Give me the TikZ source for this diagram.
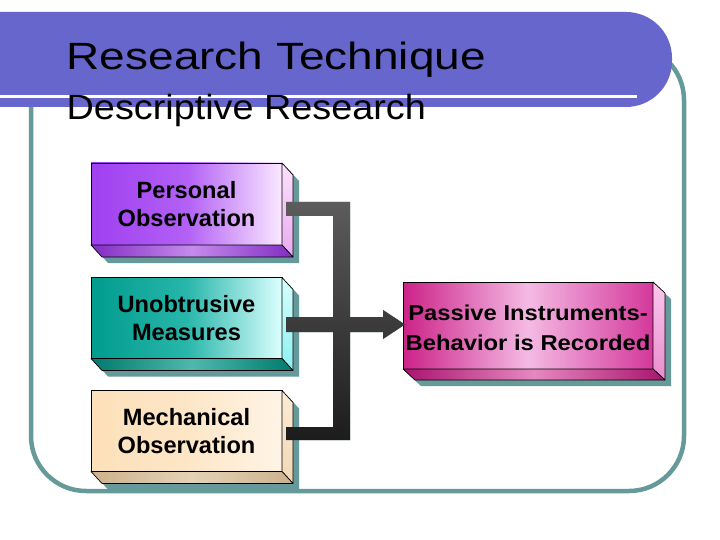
\documentclass[tikz,border=0pt]{standalone}
\usepackage{fontspec}
\usepackage{graphicx}
\setmainfont{Liberation Sans}
\usetikzlibrary{calc}
\definecolor{bandblue}{HTML}{6666CC}
\definecolor{framec}{HTML}{669999}
% personal
\definecolor{poL}{RGB}{160,64,240}
\definecolor{poM}{RGB}{178,96,245}
\definecolor{poR}{RGB}{250,232,255}
\definecolor{poST}{RGB}{252,226,252}
\definecolor{poSB}{RGB}{232,170,240}
\definecolor{poBD}{RGB}{130,44,196}
\definecolor{poBL}{RGB}{196,140,236}
% unobtrusive
\definecolor{uoL}{RGB}{0,156,142}
\definecolor{uoM}{RGB}{40,182,170}
\definecolor{uoR}{RGB}{220,255,255}
\definecolor{uoST}{RGB}{214,255,255}
\definecolor{uoSB}{RGB}{140,240,240}
\definecolor{uoBD}{RGB}{0,122,110}
\definecolor{uoBL}{RGB}{80,184,174}
% mechanical
\definecolor{moL}{RGB}{252,224,186}
\definecolor{moM}{RGB}{253,230,198}
\definecolor{moR}{RGB}{255,244,230}
\definecolor{moST}{RGB}{252,236,214}
\definecolor{moSB}{RGB}{240,214,180}
\definecolor{moBD}{RGB}{204,178,140}
\definecolor{moBL}{RGB}{228,210,182}
% passive
\definecolor{paL}{RGB}{204,34,136}
\definecolor{paM}{RGB}{244,186,228}
\definecolor{paR}{RGB}{212,56,154}
\definecolor{paST}{RGB}{250,200,236}
\definecolor{paSB}{RGB}{232,140,206}
\definecolor{paBD}{RGB}{168,20,110}
\definecolor{paBL}{RGB}{230,136,192}
\definecolor{barT}{RGB}{92,92,92}
\definecolor{barB}{RGB}{28,28,28}
\pgfdeclarelayer{bg}
\pgfdeclarelayer{shd}
\pgfsetlayers{bg,shd,main}
\tikzset{
  frontbox/.style={draw=black, line width=0.7pt, outer sep=0pt, inner sep=0pt,
    minimum width=191pt, minimum height=81pt, align=center,
    font=\fontsize{23.6}{28}\bfseries\selectfont},
  face/.style={draw=black, line width=0.7pt, line join=round},
  boxtext/.style={align=center, inner sep=0pt, font=\fontsize{21.5}{30}\bfseries\selectfont},
  barshade/.style={top color=barT, bottom color=barB},
}
\newcommand\slabparts[5]{%
  \begin{pgfonlayer}{shd}
    \fill[framec] ($(#1.north west)+(6,6)$) -- ($(#1.north east)+(6,6)$)
      -- ($(#1.north east)+(#2+6,#3+6)$) -- ($(#1.south east)+(#2+6,#3+6)$)
      -- ($(#1.south west)+(#2+6,#3+6)$) -- ($(#1.south west)+(6,6)$) -- cycle;
  \end{pgfonlayer}
  \path[face,#4] (#1.north east) -- ++(#2,#3) -- ($(#1.south east)+(#2,#3)$) -- (#1.south east) -- cycle;
  \path[face,#5] (#1.south west) -- (#1.south east) -- ++(#2,#3) -- ($(#1.south west)+(#2,#3)$) -- cycle;
}
\begin{document}
\begin{tikzpicture}[x=1pt,y=-1pt]
\useasboundingbox (0,0) rectangle (720,540);
\begin{pgfonlayer}{bg}
  \fill[white] (0,0) rectangle (720,540);
  \draw[framec, line width=4.5pt, rounded corners=55pt] (31,45) rectangle (684,491);
  \begin{scope}
    \clip (0,0) rectangle (720,540);
    \fill[bandblue, rounded corners=46pt] (-80,12) rectangle (672,107);
  \end{scope}
  \draw[white, line width=3pt] (0,97) -- (637,97);
\end{pgfonlayer}

\node[anchor=base west, inner sep=0pt] (title) at (66.5,69.5)
  {\fontsize{38}{40}\selectfont\scalebox{1.21}[1]{Research Technique}};
\node[anchor=base west, inner sep=0pt] (subtitle) at (66.5,120)
  {\fontsize{35}{38}\selectfont\scalebox{1.08}[1]{Descriptive Research}};

% left boxes
\node[frontbox, left color=poL, right color=poR, middle color=poM, minimum height=82pt]
  (po) at (186.5,204) {Personal\\Observation};
\slabparts{po}{11}{12}{top color=poST, bottom color=poSB}
  {left color=poBD, right color=poBD, middle color=poBL}

\node[frontbox, left color=uoL, right color=uoR, middle color=uoM]
  (uo) at (186.5,318) {Unobtrusive\\Measures};
\slabparts{uo}{11}{12}{top color=uoST, bottom color=uoSB}
  {left color=uoBD, right color=uoBD, middle color=uoBL}

\node[frontbox, left color=moL, right color=moR, middle color=moM]
  (mo) at (186.5,431) {Mechanical\\Observation};
\slabparts{mo}{11}{12}{top color=moST, bottom color=moSB}
  {left color=moBD, right color=moBD, middle color=moBL}

% right box
\node[frontbox, minimum width=250pt, minimum height=87pt,
      left color=paL, right color=paR, middle color=paM]
  (pa) at (528,325.5) {};
\slabparts{pa}{12}{11}{top color=paST, bottom color=paSB}
  {left color=paBD, right color=paBD, middle color=paBL}
\node[boxtext] (patext) at ($(pa.center)+(0,2)$)
  {\scalebox{1.107}[1]{Passive Instruments-}\\\scalebox{1.107}[1]{Behavior is Recorded}};

% connector
\coordinate (a1) at (286,202);
\coordinate (a2) at (350,202);
\coordinate (a3) at (350,317);
\coordinate (a4) at (383,317);
\coordinate (a5) at (383,310);
\coordinate (tip) at (405,324.5);
\coordinate (a7) at (383,339);
\coordinate (a8) at (383,332);
\coordinate (a9) at (350,332);
\coordinate (a10) at (350,440);
\coordinate (a11) at (286,440);
\coordinate (a12) at (286,427);
\coordinate (a13) at (333,427);
\coordinate (a14) at (333,332);
\coordinate (a15) at (286,332);
\coordinate (a16) at (286,317);
\coordinate (a17) at (333,317);
\coordinate (a18) at (333,216);
\coordinate (a19) at (286,216);
\begin{pgfonlayer}{shd}
  \fill[framec, shift={(6,6)}] (a1) -- (a2) -- (a3) -- (a4) -- (a5) -- (tip) -- (a7) -- (a8) -- (a9)
    -- (a10) -- (a11) -- (a12) -- (a13) -- (a14) -- (a15) -- (a16) -- (a17) -- (a18) -- (a19) -- cycle;
\end{pgfonlayer}
\shade[barshade] (a1) -- (a2) -- (a3) -- (a4) -- (a5) -- (tip) -- (a7) -- (a8) -- (a9)
    -- (a10) -- (a11) -- (a12) -- (a13) -- (a14) -- (a15) -- (a16) -- (a17) -- (a18) -- (a19) -- cycle;
\end{tikzpicture}
\end{document}
